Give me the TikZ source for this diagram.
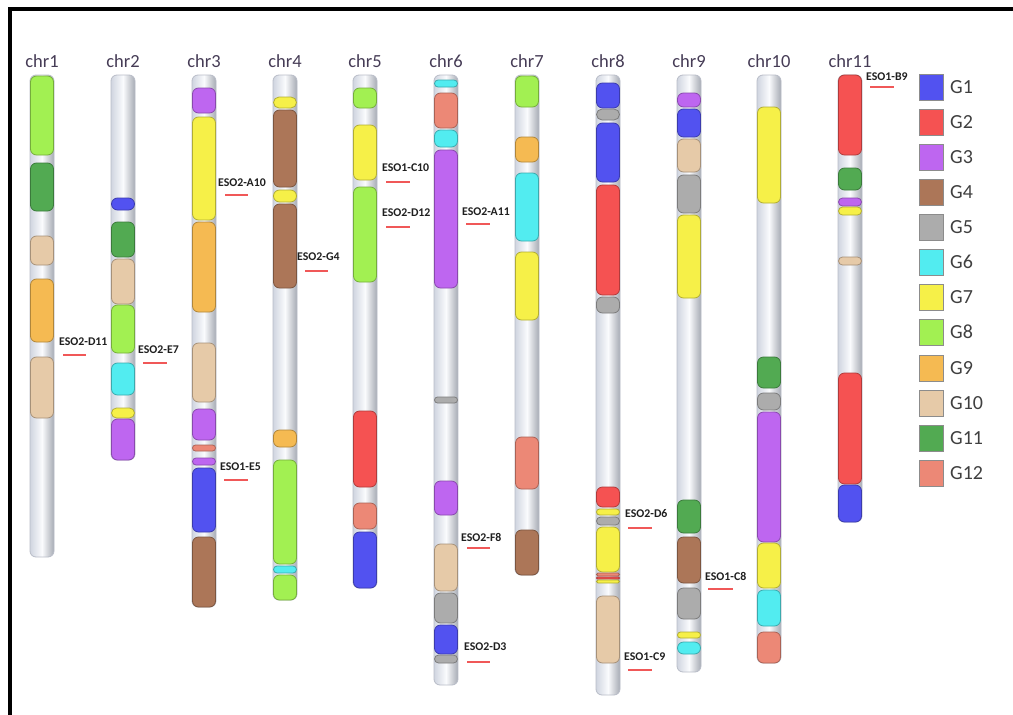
\documentclass[tikz,border=0pt]{standalone}
\usepackage{fontspec}
\setmainfont{Carlito}
\definecolor{g1}{RGB}{82,82,240}
\definecolor{g2}{RGB}{245,82,82}
\definecolor{g3}{RGB}{190,102,240}
\definecolor{g4}{RGB}{172,118,88}
\definecolor{g5}{RGB}{172,172,172}
\definecolor{g6}{RGB}{82,236,240}
\definecolor{g7}{RGB}{246,240,72}
\definecolor{g8}{RGB}{162,240,82}
\definecolor{g9}{RGB}{245,186,82}
\definecolor{g10}{RGB}{230,202,168}
\definecolor{g11}{RGB}{82,170,82}
\definecolor{g12}{RGB}{236,136,118}
\definecolor{chrtext}{RGB}{70,60,86}
\definecolor{marklinec}{RGB}{240,88,88}
\definecolor{baredge}{RGB}{185,189,200}
\definecolor{barside}{RGB}{208,213,224}
\definecolor{barmid}{RGB}{250,251,253}
\newcommand\chromo[4]{%
  \draw[chrbar] (#2-12,#3) rectangle (#2+12,#4);
  \node[chrlabel] (#1) at (#2,67) {#1};
}
\newcommand\segm[4]{%
  \pgfmathsetmacro\segr{min(6,(#3-#2)/2)}%
  \draw[segbox, draw=#4!72!black, fill=#4, rounded corners=\segr pt] (#1-11.5,#2) rectangle (#1+11.5,#3);
}
\newcommand\marker[7]{%
  \node[marktext] (#1) at (#3,#4) {#2};
  \coordinate (#1a) at (#5,#7);
  \coordinate (#1b) at (#6,#7);
  \draw[markline] (#1a) -- (#1b);
}
\newcommand\legitem[3]{%
  \draw[legbox, fill=#2] (919,#3) rectangle (943,#3+26);
  \node[legtext] (leg#1) at (950,#3+13) {#1};
}
\begin{document}
\begin{tikzpicture}[x=1pt,y=-1pt,
  chrbar/.style={draw=baredge, line width=0.8pt, rounded corners=6pt,
     left color=barside, right color=barside!80!black, middle color=barmid},
  chrlabel/.style={anchor=base, inner sep=0pt, font=\fontsize{18.5}{20}\selectfont, text=chrtext},
  segbox/.style={line width=0.8pt},
  marktext/.style={anchor=west, inner sep=0pt, font=\bfseries\fontsize{11.8}{13}\selectfont, text=black!88},
  markline/.style={draw=marklinec, line width=2pt},
  legbox/.style={draw=black!45, line width=0.9pt},
  legtext/.style={anchor=west, inner sep=0pt, font=\fontsize{20}{22}\selectfont, text=black!75}]
\useasboundingbox (0,0) rectangle (1013,715);
\fill[white] (0,0) rectangle (1013,715);
\draw[line width=4pt, line cap=rect] (10,715) -- (10,9) -- (1013,9);

% chr1
\chromo{chr1}{42}{75}{557}
\segm{42}{76}{155}{g8}
\segm{42}{163}{211}{g11}
\segm{42}{236}{265}{g10}
\segm{42}{279}{342}{g9}
\segm{42}{357}{418}{g10}
% chr2
\chromo{chr2}{123}{75}{460}
\segm{123}{198}{210}{g1}
\segm{123}{222}{257}{g11}
\segm{123}{259}{304}{g10}
\segm{123}{305}{353}{g8}
\segm{123}{363}{395}{g6}
\segm{123}{408}{418}{g7}
\segm{123}{419}{460}{g3}
% chr3
\chromo{chr3}{204}{75}{607}
\segm{204}{88}{113}{g3}
\segm{204}{117}{220}{g7}
\segm{204}{222}{312}{g9}
\segm{204}{343}{402}{g10}
\segm{204}{409}{440}{g3}
\segm{204}{445}{451}{g12}
\segm{204}{458}{465}{g3}
\segm{204}{468}{532}{g1}
\segm{204}{537}{607}{g4}
% chr4
\chromo{chr4}{285}{75}{600}
\segm{285}{97}{108}{g7}
\segm{285}{110}{187}{g4}
\segm{285}{190}{202}{g7}
\segm{285}{204}{288}{g4}
\segm{285}{430}{447}{g9}
\segm{285}{460}{564}{g8}
\segm{285}{566}{573}{g6}
\segm{285}{575}{600}{g8}
% chr5
\chromo{chr5}{365}{75}{588}
\segm{365}{88}{108}{g8}
\segm{365}{125}{180}{g7}
\segm{365}{187}{282}{g8}
\segm{365}{411}{487}{g2}
\segm{365}{503}{529}{g12}
\segm{365}{532}{588}{g1}
% chr6
\chromo{chr6}{446}{75}{685}
\segm{446}{80}{87}{g6}
\segm{446}{93}{128}{g12}
\segm{446}{130}{147}{g6}
\segm{446}{150}{288}{g3}
\segm{446}{397}{403}{g5}
\segm{446}{481}{515}{g3}
\segm{446}{544}{591}{g10}
\segm{446}{593}{623}{g5}
\segm{446}{625}{654}{g1}
\segm{446}{655}{663}{g5}
% chr7
\chromo{chr7}{527}{75}{575}
\segm{527}{76}{107}{g8}
\segm{527}{137}{162}{g9}
\segm{527}{173}{241}{g6}
\segm{527}{252}{320}{g7}
\segm{527}{437}{489}{g12}
\segm{527}{530}{575}{g4}
% chr8
\chromo{chr8}{608}{75}{695}
\segm{608}{83}{108}{g1}
\segm{608}{109}{120}{g5}
\segm{608}{123}{182}{g1}
\segm{608}{185}{295}{g2}
\segm{608}{297}{313}{g5}
\segm{608}{487}{507}{g2}
\segm{608}{509}{515}{g7}
\segm{608}{517}{525}{g5}
\segm{608}{527}{572}{g7}
\segm{608}{573}{576}{g12}
\segm{608}{577}{579}{g2}
\segm{608}{580}{583}{g7}
\segm{608}{596}{663}{g10}
% chr9
\chromo{chr9}{689}{75}{672}
\segm{689}{93}{107}{g3}
\segm{689}{109}{137}{g1}
\segm{689}{139}{172}{g10}
\segm{689}{175}{213}{g5}
\segm{689}{215}{298}{g7}
\segm{689}{500}{533}{g11}
\segm{689}{537}{583}{g4}
\segm{689}{588}{619}{g5}
\segm{689}{632}{638}{g7}
\segm{689}{642}{654}{g6}
% chr10
\chromo{chr10}{769}{75}{663}
\segm{769}{107}{203}{g7}
\segm{769}{357}{388}{g11}
\segm{769}{393}{410}{g5}
\segm{769}{412}{542}{g3}
\segm{769}{543}{588}{g7}
\segm{769}{590}{626}{g6}
\segm{769}{632}{663}{g12}
% chr11
\chromo{chr11}{850}{75}{522}
\segm{850}{75}{155}{g2}
\segm{850}{168}{190}{g11}
\segm{850}{198}{206}{g3}
\segm{850}{207}{215}{g7}
\segm{850}{257}{265}{g10}
\segm{850}{373}{484}{g2}
\segm{850}{485}{522}{g1}

% markers
\marker{mD11}{ESO2-D11}{59}{342}{63}{86}{355}
\marker{mE7}{ESO2-E7}{138}{350}{143}{167}{363}
\marker{mA10}{ESO2-A10}{218}{183}{225}{248}{195}
\marker{mG4}{ESO2-G4}{297}{257}{305}{328}{271}
\marker{mE5}{ESO1-E5}{220}{467}{224}{248}{480}
\marker{mC10}{ESO1-C10}{382}{168}{386}{410}{182}
\marker{mD12}{ESO2-D12}{382}{213}{386}{410}{227}
\marker{mA11}{ESO2-A11}{462}{212}{466}{490}{224}
\marker{mF8}{ESO2-F8}{461}{537}{467}{490}{548}
\marker{mD3}{ESO2-D3}{464}{647}{467}{490}{662}
\marker{mD6}{ESO2-D6}{625}{514}{628}{652}{528}
\marker{mC9}{ESO1-C9}{624}{657}{628}{652}{670}
\marker{mC8}{ESO1-C8}{705}{576}{708}{733}{589}
\marker{mB9}{ESO1-B9}{866}{77}{870}{894}{87}

% legend
\legitem{G1}{g1}{74}
\legitem{G2}{g2}{109}
\legitem{G3}{g3}{144}
\legitem{G4}{g4}{179}
\legitem{G5}{g5}{214}
\legitem{G6}{g6}{249}
\legitem{G7}{g7}{284}
\legitem{G8}{g8}{319}
\legitem{G9}{g9}{355}
\legitem{G10}{g10}{390}
\legitem{G11}{g11}{425}
\legitem{G12}{g12}{460}
\end{tikzpicture}
\end{document}
